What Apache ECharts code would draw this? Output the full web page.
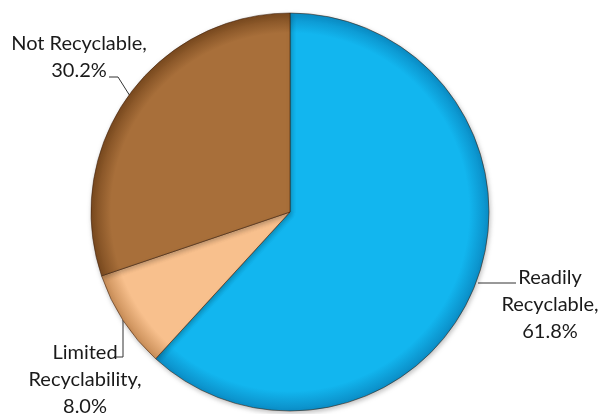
<!DOCTYPE html>
<html><head><meta charset="utf-8">
<script src="https://cdn.jsdelivr.net/npm/echarts@6/dist/echarts.min.js"></script>
<style>html,body{margin:0;padding:0;background:#fff}#c{width:602px;height:414px}</style>
</head><body><div id="c"></div>
<script>
var categories = ['Readily\nRecyclable', 'Limited\nRecyclability', 'Not Recyclable'];
var values = [61.8, 8.0, 30.2];
var baseColors = ['#12B6EF', '#F8C08D', '#A86F3A'];
var edgeColors = ['#0B8DC6', '#C98E58', '#7A4A1F'];

var CX = 290, CY = 212, R = 199;
function grad(i) {
  return {type: 'radial', x: CX, y: CY, r: R, global: true,
    colorStops: [{offset: 0, color: baseColors[i]}, {offset: 0.9, color: baseColors[i]}, {offset: 1, color: edgeColors[i]}]};
}
var labelPos = [
  {x: 550, y: 305, pts: [[478, 283], [516, 283], [516, 283]]},
  {x: 85, y: 380, pts: [[123, 320], [123, 357], [114, 357]]},
  {x: 79, y: 57, pts: [[130, 96], [118, 77], [109, 77]]}
];
var chart = echarts.init(document.getElementById('c'));
chart.setOption({
  animation: false,
  series: [{
    type: 'pie',
    center: [CX, CY],
    radius: [0, R],
    startAngle: 90,
    clockwise: true,
    data: categories.map(function (c, i) {
      return {name: c, value: values[i], itemStyle: {color: grad(i)}};
    }),
    itemStyle: {borderColor: 'rgba(60,30,10,0.55)', borderWidth: 1, shadowBlur: 5, shadowColor: 'rgba(0,0,0,0.25)', shadowOffsetX: 1, shadowOffsetY: 2},
    label: {
      show: true,
      position: 'outside',
      overflow: 'none',
      formatter: function (p) { return p.name + ',\n' + p.value.toFixed(1) + '%'; },
      fontFamily: 'Lato',
      fontSize: 20,
      lineHeight: 27,
      color: '#1a1a1a',
      align: 'center'
    },
    labelLine: {show: true, lineStyle: {color: '#333', width: 1}},
    labelLayout: function (params) {
      var lp = labelPos[params.dataIndex];
      return {x: lp.x, y: lp.y, align: 'center', verticalAlign: 'middle', labelLinePoints: lp.pts};
    },
    emphasis: {disabled: true}
  }]
});
</script></body></html>
